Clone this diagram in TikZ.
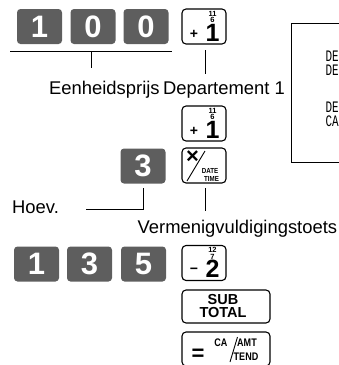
\documentclass[tikz,border=0pt]{standalone}
\usepackage{fontspec}
\setmainfont{Liberation Sans}
\newfontfamily\rcptfont{Liberation Mono}
\usetikzlibrary{calc}
\definecolor{keygray}{HTML}{5E5E5E}
\newcommand\keystack[3]{\vbox{\offinterlineskip\halign{\hfil##\hfil\cr
  \fontsize{7.5}{7.5}\selectfont #1\cr\noalign{\kern1.2pt}
  \fontsize{7.5}{7.5}\selectfont #2\cr\noalign{\kern1.2pt}
  \fontsize{25}{25}\selectfont #3\cr}}}
\newcommand\deptkeyface[5]{%
  \node[signtxt] (#1s) at ($(#1.center)+(-10,7.5)$) {#4};
  \node[inner sep=0pt, font=\bfseries] (#1d) at ($(#1.center)+(8.5,-0.3)$) {\keystack{#2}{#3}{#5}};
}
\begin{document}
\begin{tikzpicture}[x=1pt,y=-1pt,
  darkkey/.style={fill=keygray, rounded corners=3.5pt, minimum width=45pt, minimum height=35pt, inner sep=0pt, text=white, font=\fontsize{31}{31}\selectfont\bfseries},
  whitekey/.style={draw=black, line width=1.1pt, rounded corners=4pt, minimum width=44pt, minimum height=35pt, inner sep=0pt},
  widekey/.style={whitekey, minimum width=88pt, minimum height=33pt},
  lbl/.style={font=\fontsize{18.4}{20}\selectfont, inner sep=0pt},
  conn/.style={line width=0.9pt},
  condtxt/.style={inner sep=0pt, font=\fontsize{7.3}{7.3}\selectfont\bfseries},
  midtxt/.style={inner sep=0pt, font=\fontsize{11}{11}\selectfont\bfseries},
  signtxt/.style={inner sep=0pt, font=\fontsize{14}{14}\selectfont\bfseries},
  rcpt/.style={inner sep=0pt, anchor=west, font=\fontsize{16}{16}\rcptfont},
]
\useasboundingbox (0,0) rectangle (339,365);
% row 1
\node[darkkey] (a1) at (39.5,26.5) {1};
\node[darkkey] (a2) at (93,26.5) {0};
\node[darkkey] (a3) at (146,26.5) {0};
\node[whitekey] (d1) at (204,26.5) {};
\deptkeyface{d1}{11}{6}{+}{1}
\coordinate (b0) at (10,51);
\coordinate (b1) at (172,51);
\coordinate (bt0) at (91,51);
\coordinate (bt1) at (91,68);
\draw[conn] (b0) -- (b1);
\draw[conn] (bt0) -- (bt1);
\coordinate (c0) at (205,50);
\coordinate (c1) at (205,74);
\draw[conn] (c0) -- (c1);
\node[lbl, anchor=base west] (l1) at (49,94) {Eenheidsprijs};
\node[lbl, anchor=base east] (l2) at (285,94) {Departement 1};
% receipt
\node[draw=black, line width=1pt, anchor=north west, minimum width=60pt, minimum height=139pt, inner sep=0pt] (rc) at (291,23) {};
\node[rcpt] (r1) at (325.5,56) {\scalebox{0.68}[1]{DE}};
\node[rcpt] (r2) at (325.5,70) {\scalebox{0.68}[1]{DE}};
\node[rcpt] (r3) at (325.5,107) {\scalebox{0.68}[1]{DE}};
\node[rcpt] (r4) at (325.5,121) {\scalebox{0.68}[1]{CA}};
% second group
\node[whitekey] (d2) at (204,123.5) {};
\deptkeyface{d2}{11}{6}{+}{1}
\node[darkkey] (q3) at (143,166) {3};
\node[whitekey] (xk) at (204,165.5) {};
\node[inner sep=0pt, font=\fontsize{22}{22}\selectfont\bfseries] (xks) at ($(xk.center)+(-11.5,-8)$) {×};
\coordinate (xka) at ($(xk.center)+(-17,15.5)$);
\coordinate (xkb) at ($(xk.center)+(1,-14.5)$);
\draw[conn] (xka) -- (xkb);
\node[condtxt] (xkd) at ($(xk.center)+(6,5)$) {\scalebox{0.85}[1]{DATE}};
\node[condtxt] (xkt) at ($(xk.center)+(7.5,13)$) {\scalebox{0.85}[1]{TIME}};
\coordinate (h1) at (143,188);
\coordinate (h2) at (143,209);
\coordinate (h3) at (86,209);
\draw[conn] (h1) -- (h2) -- (h3);
\node[lbl, anchor=base west] (hoev) at (12,213) {Hoev.};
\coordinate (e0) at (205,188);
\coordinate (e1) at (205,211);
\draw[conn] (e0) -- (e1);
\node[lbl, anchor=base west] (verm) at (137.5,233) {Vermenigvuldigingstoets};
% row 3
\node[darkkey] (g1) at (36.5,264) {1};
\node[darkkey] (g2) at (89.5,264) {3};
\node[darkkey] (g3) at (143.5,264) {5};
\node[whitekey] (d3) at (204,263) {};
\deptkeyface{d3}{12}{7}{−}{2}
\node[widekey] (st) at (226,306.5) {};
\node[inner sep=0pt, align=center, font=\fontsize{14.5}{13}\selectfont\bfseries] (stt) at (223,306.5) {SUB\\TOTAL};
\node[widekey, minimum height=34pt] (ca) at (226,349) {};
\node[inner sep=0pt, font=\fontsize{22}{22}\selectfont\bfseries] (caeq) at ($(ca.center)+(-28,5.5)$) {=};
\node[midtxt] (caa) at ($(ca.center)+(-5,-6)$) {\scalebox{0.82}[1]{CA}};
\node[midtxt] (cab) at ($(ca.center)+(21,-6)$) {\scalebox{0.82}[1]{AMT}};
\node[midtxt] (cac) at ($(ca.center)+(20,7.5)$) {\scalebox{0.82}[1]{TEND}};
\coordinate (cs0) at ($(ca.center)+(4,13)$);
\coordinate (cs1) at ($(ca.center)+(11.5,-12)$);
\draw[conn] (cs0) -- (cs1);
\end{tikzpicture}
\end{document}
